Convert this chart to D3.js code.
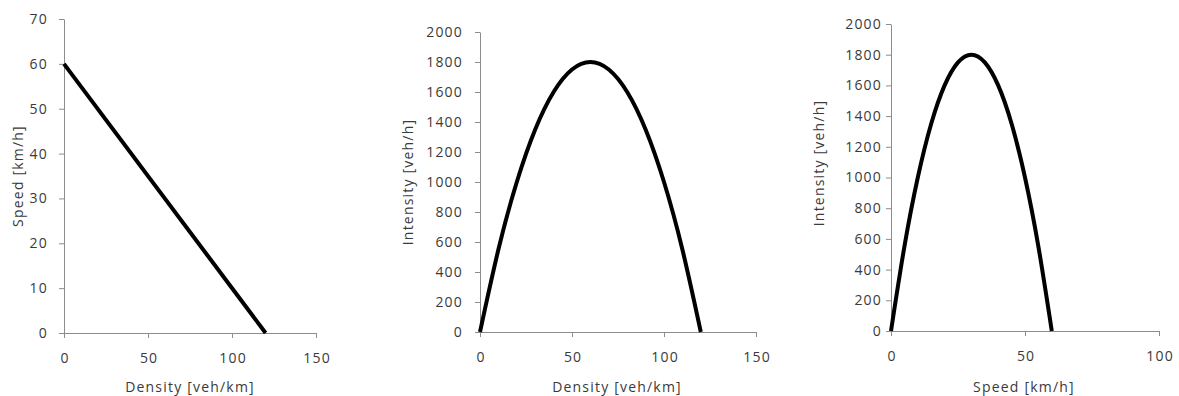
<!DOCTYPE html>
<html>
<head>
<meta charset="utf-8">
<script src="https://cdn.jsdelivr.net/npm/d3@7"></script>
<style>
  body { margin: 0; background: #fff; }
  text { font-family: "Open Sans", sans-serif; }
</style>
</head>
<body>
<svg id="svg" width="1179" height="396"></svg>
<script>
// chart 1: speed vs density
let density1 = [0, 120]
let speed1 = [60, 0]

// chart 2: intensity vs density
let density2 = [0, 10, 20, 30, 40, 50, 60, 70, 80, 90, 100, 110, 120]
let intensity2 = [0, 550, 1000, 1350, 1600, 1750, 1800, 1750, 1600, 1350, 1000, 550, 0]

// chart 3: intensity vs speed
let speed3 = [0, 5, 10, 15, 20, 25, 30, 35, 40, 45, 50, 55, 60]
let intensity3 = [0, 550, 1000, 1350, 1600, 1750, 1800, 1750, 1600, 1350, 1000, 550, 0]

let ticks1x = [0, 50, 100, 150], ticks1y = [0, 10, 20, 30, 40, 50, 60, 70]
let ticks2x = [0, 50, 100, 150], ticks2y = [0, 200, 400, 600, 800, 1000, 1200, 1400, 1600, 1800, 2000]
let ticks3x = [0, 50, 100], ticks3y = ticks2y

let svg = d3.select("#svg")
let fmt = d3.format("d")

let draw = (cfg) => {
    let x = d3.scaleLinear().domain(cfg.xdom).range([cfg.left, cfg.right])
    let y = d3.scaleLinear().domain(cfg.ydom).range([cfg.bottom, cfg.top])
    let g = svg.append("g")

    let gx = g.append("g")
        .attr("transform", "translate(0," + cfg.bottom + ")")
        .call(d3.axisBottom(x).tickValues(cfg.xticks).tickFormat(fmt).tickSize(5).tickSizeOuter(0).tickPadding(15))
    let gy = g.append("g")
        .attr("transform", "translate(" + cfg.left + ",0)")
        .call(d3.axisLeft(y).tickValues(cfg.yticks).tickFormat(fmt).tickSize(5).tickSizeOuter(0).tickPadding(cfg.ypad))

    ;[gx, gy].forEach(a => {
        a.selectAll("path, line").attr("stroke", "#8c8c8c")
        a.selectAll("text").attr("fill", "#3a3a3a")
            .style("font-size", "14px").style("letter-spacing", "1.2px")
    })
    gx.selectAll("text").attr("dx", "0.6px")

    g.append("text")
        .text(cfg.xtitle)
        .attr("x", (cfg.left + cfg.right) / 2 + cfg.xtdx)
        .attr("y", 392)
        .attr("text-anchor", "middle")
        .attr("fill", "#3a3a3a")
        .style("font-size", "14px")
        .style("letter-spacing", "1.2px")

    g.append("text")
        .text(cfg.ytitle)
        .attr("transform", "translate(" + cfg.ytx + "," + cfg.yty + ") rotate(-90)")
        .attr("text-anchor", "middle")
        .attr("dy", "0.35em")
        .attr("fill", "#3a3a3a")
        .style("font-size", "14px")
        .style("letter-spacing", "1.2px")

    let line = d3.line()
        .x(d => x(d[0]))
        .y(d => y(d[1]))
        .curve(d3.curveNatural)

    g.append("path")
        .datum(cfg.xs.map((v, i) => [v, cfg.ys[i]]))
        .attr("d", line)
        .attr("fill", "none")
        .attr("stroke", "#000")
        .attr("stroke-width", 4)
}

draw({ xs: density1, ys: speed1, xdom: [0, 150], ydom: [0, 70], xticks: ticks1x, yticks: ticks1y,
    left: 64, right: 316, top: 19, bottom: 333, ypad: 11,
    xtitle: "Density [veh/km]", xtdx: 0, ytitle: "Speed [km/h]", ytx: 18, yty: 176 })

draw({ xs: density2, ys: intensity2, xdom: [0, 150], ydom: [0, 2000], xticks: ticks2x, yticks: ticks2y,
    left: 480, right: 756, top: 32, bottom: 332, ypad: 12,
    xtitle: "Density [veh/km]", xtdx: -1, ytitle: "Intensity [veh/h]", ytx: 408, yty: 182 })

draw({ xs: speed3, ys: intensity3, xdom: [0, 100], ydom: [0, 2000], xticks: ticks3x, yticks: ticks3y,
    left: 891, right: 1159, top: 24, bottom: 331, ypad: 4,
    xtitle: "Speed [km/h]", xtdx: -1, ytitle: "Intensity [veh/h]", ytx: 819, yty: 163 })
</script>
</body>
</html>
